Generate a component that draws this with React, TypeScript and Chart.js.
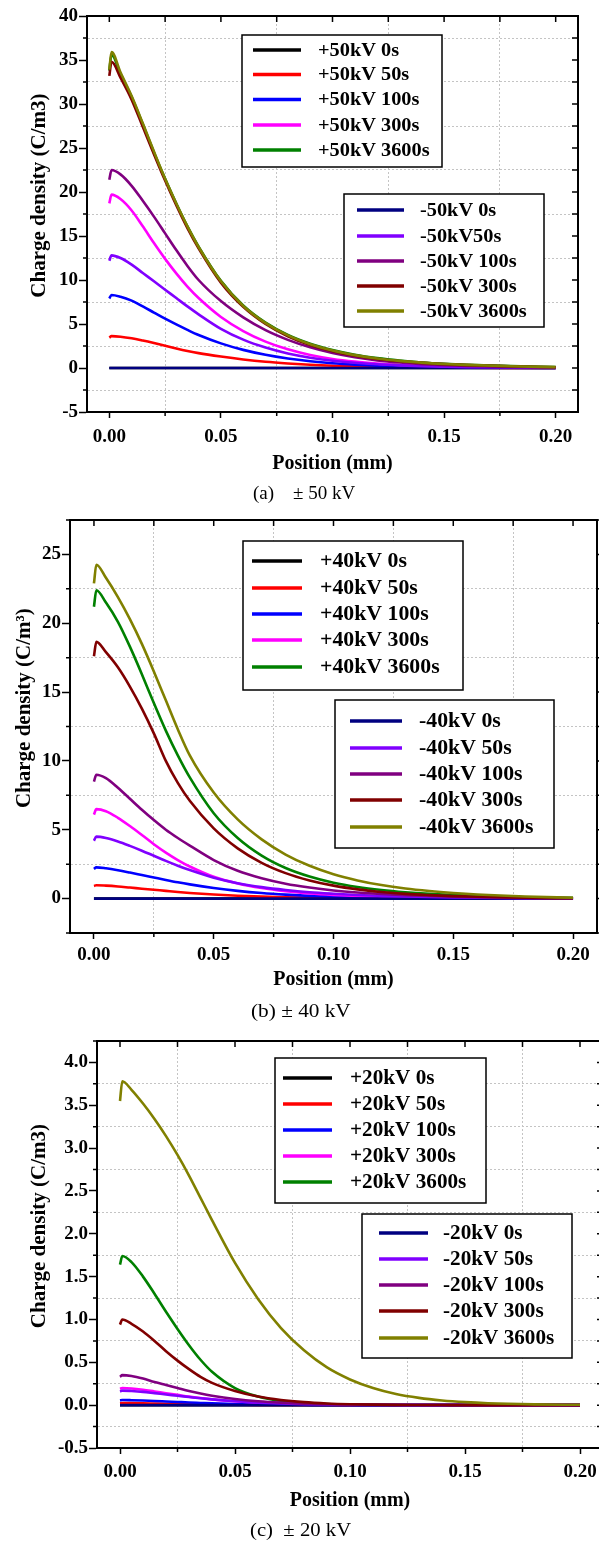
import React, { useEffect, useRef } from "react";
import { Chart, registerables } from "chart.js";

Chart.register(...registerables);

// ---------- data ----------
const POSITION_MM = [0, 0.001, 0.005, 0.01, 0.015, 0.02, 0.025, 0.03, 0.035, 0.04, 0.05, 0.06, 0.07, 0.08, 0.09, 0.1, 0.11, 0.12, 0.13, 0.14, 0.15, 0.16, 0.18, 0.2];

const SERIES_COLORS = ["#000000", "#ff0000", "#0000ff", "#ff00ff", "#008000", "#000080", "#8000ff", "#800080", "#800000", "#808000"];

const ZERO = [0, 0, 0, 0, 0, 0, 0, 0, 0, 0, 0, 0, 0, 0, 0, 0, 0, 0, 0, 0, 0, 0, 0, 0];

// Panel (a) +-50 kV
const A_LABELS = ["+50kV 0s", "+50kV 50s", "+50kV 100s", "+50kV 300s", "+50kV 3600s", "-50kV 0s", "-50kV50s", "-50kV 100s", "-50kV 300s", "-50kV 3600s"];
const A_P0 = ZERO;
const A_P50 = [3.45, 3.62, 3.56, 3.38, 3.12, 2.83, 2.52, 2.22, 1.94, 1.69, 1.3, 0.97, 0.71, 0.52, 0.37, 0.26, 0.18, 0.12, 0.08, 0.055, 0.035, 0.022, 0.01, 0.004];
const A_P100 = [7.9, 8.3, 8.1, 7.65, 7.0, 6.3, 5.6, 4.95, 4.33, 3.75, 2.8, 2.06, 1.5, 1.08, 0.77, 0.54, 0.38, 0.26, 0.18, 0.12, 0.08, 0.055, 0.025, 0.01];
const A_P300 = [18.7, 19.7, 19.2, 17.9, 16.1, 14.2, 12.4, 10.75, 9.25, 7.95, 5.8, 4.2, 3.0, 2.12, 1.48, 1.03, 0.72, 0.5, 0.34, 0.23, 0.16, 0.11, 0.05, 0.02];
const A_P3600 = [33.8, 35.6, 33.4, 30.8, 27.7, 24.5, 21.5, 18.7, 16.1, 13.8, 9.9, 7.1, 5.15, 3.75, 2.75, 2.03, 1.5, 1.12, 0.84, 0.63, 0.48, 0.37, 0.21, 0.11];
const A_N0 = ZERO;
const A_N50 = [12.2, 12.8, 12.5, 11.75, 10.8, 9.85, 8.9, 7.95, 7.0, 6.1, 4.45, 3.22, 2.32, 1.65, 1.17, 0.83, 0.59, 0.42, 0.3, 0.21, 0.15, 0.1, 0.05, 0.02];
const A_N100 = [21.4, 22.5, 22.0, 20.7, 19.0, 17.2, 15.3, 13.4, 11.6, 10.0, 7.6, 5.75, 4.3, 3.2, 2.35, 1.7, 1.22, 0.87, 0.62, 0.44, 0.31, 0.22, 0.11, 0.05];
const A_N300 = [33.2, 34.8, 33.0, 30.5, 27.4, 24.3, 21.3, 18.5, 15.9, 13.6, 9.7, 6.95, 5.0, 3.6, 2.6, 1.9, 1.4, 1.03, 0.77, 0.58, 0.44, 0.33, 0.18, 0.09];
const A_N3600 = [33.9, 35.9, 33.6, 30.9, 27.8, 24.6, 21.5, 18.7, 16.1, 13.75, 9.85, 7.05, 5.1, 3.7, 2.7, 1.98, 1.46, 1.08, 0.81, 0.61, 0.46, 0.35, 0.2, 0.1];

// Panel (b) +-40 kV
const B_LABELS = ["+40kV 0s", "+40kV 50s", "+40kV 100s", "+40kV 300s", "+40kV 3600s", "-40kV 0s", "-40kV 50s", "-40kV 100s", "-40kV 300s", "-40kV 3600s"];
const B_P0 = ZERO;
const B_P50 = [0.92, 0.97, 0.94, 0.88, 0.8, 0.72, 0.64, 0.56, 0.48, 0.41, 0.3, 0.21, 0.145, 0.1, 0.068, 0.046, 0.031, 0.021, 0.014, 0.01, 0.007, 0.005, 0.002, 0.001];
const B_P100 = [2.15, 2.27, 2.2, 2.06, 1.89, 1.71, 1.53, 1.35, 1.18, 1.03, 0.77, 0.56, 0.4, 0.285, 0.2, 0.14, 0.1, 0.07, 0.05, 0.035, 0.025, 0.017, 0.008, 0.004];
const B_P300 = [6.1, 6.5, 6.35, 5.87, 5.27, 4.62, 3.95, 3.34, 2.8, 2.33, 1.58, 1.1, 0.77, 0.54, 0.38, 0.27, 0.19, 0.135, 0.095, 0.068, 0.048, 0.034, 0.016, 0.008];
const B_P3600 = [21.2, 22.4, 21.5, 20.1, 18.3, 16.3, 14.2, 12.2, 10.4, 8.8, 6.2, 4.4, 3.12, 2.22, 1.6, 1.15, 0.84, 0.62, 0.46, 0.34, 0.25, 0.19, 0.1, 0.05];
const B_N0 = ZERO;
const B_N50 = [4.2, 4.5, 4.4, 4.15, 3.83, 3.48, 3.11, 2.74, 2.39, 2.07, 1.52, 1.12, 0.83, 0.62, 0.46, 0.35, 0.26, 0.2, 0.15, 0.11, 0.08, 0.06, 0.03, 0.015];
const B_N100 = [8.5, 9.0, 8.75, 8.05, 7.25, 6.45, 5.7, 5.0, 4.4, 3.85, 2.8, 2.02, 1.48, 1.08, 0.8, 0.59, 0.44, 0.33, 0.25, 0.19, 0.14, 0.1, 0.05, 0.025];
const B_N300 = [17.6, 18.65, 17.9, 16.8, 15.4, 13.8, 12.0, 10.0, 8.4, 7.1, 5.1, 3.65, 2.6, 1.85, 1.32, 0.94, 0.67, 0.48, 0.34, 0.25, 0.18, 0.13, 0.06, 0.025];
const B_N3600 = [22.9, 24.25, 23.3, 21.9, 20.3, 18.5, 16.5, 14.4, 12.3, 10.4, 7.7, 5.75, 4.3, 3.2, 2.38, 1.77, 1.32, 0.98, 0.73, 0.55, 0.41, 0.3, 0.15, 0.06];

// Panel (c) +-20 kV
const C_LABELS = ["+20kV 0s", "+20kV 50s", "+20kV 100s", "+20kV 300s", "+20kV 3600s", "-20kV 0s", "-20kV 50s", "-20kV 100s", "-20kV 300s", "-20kV 3600s"];
const C_P0 = ZERO;
const C_P50 = [0.022, 0.025, 0.024, 0.022, 0.019, 0.016, 0.014, 0.011, 0.009, 0.007, 0.005, 0.003, 0.002, 0.001, 0.001, 0.0005, 0, 0, 0, 0, 0, 0, 0, 0];
const C_P100 = [0.055, 0.06, 0.058, 0.054, 0.049, 0.043, 0.037, 0.031, 0.026, 0.021, 0.014, 0.009, 0.006, 0.004, 0.002, 0.001, 0, 0, 0, 0, 0, 0, 0, 0];
const C_P300 = [0.19, 0.2, 0.195, 0.18, 0.16, 0.14, 0.12, 0.1, 0.083, 0.068, 0.045, 0.028, 0.017, 0.01, 0.006, 0.003, 0.002, 0.001, 0, 0, 0, 0, 0, 0];
const C_P3600 = [1.64, 1.74, 1.67, 1.5, 1.3, 1.09, 0.89, 0.7, 0.53, 0.39, 0.2, 0.1, 0.048, 0.024, 0.012, 0.006, 0.003, 0.0015, 0, 0, 0, 0, 0, 0];
const C_N0 = ZERO;
const C_N50 = [0.16, 0.17, 0.165, 0.155, 0.14, 0.125, 0.11, 0.095, 0.08, 0.067, 0.046, 0.03, 0.019, 0.012, 0.007, 0.004, 0.002, 0.001, 0, 0, 0, 0, 0, 0];
const C_N100 = [0.33, 0.35, 0.34, 0.31, 0.27, 0.235, 0.2, 0.165, 0.135, 0.11, 0.072, 0.046, 0.029, 0.018, 0.011, 0.007, 0.004, 0.002, 0.001, 0, 0, 0, 0, 0];
const C_N300 = [0.94, 1.0, 0.95, 0.86, 0.75, 0.63, 0.52, 0.42, 0.33, 0.26, 0.165, 0.1, 0.06, 0.035, 0.02, 0.011, 0.006, 0.003, 0.002, 0.001, 0, 0, 0, 0];
const C_N3600 = [3.55, 3.78, 3.68, 3.52, 3.34, 3.14, 2.92, 2.68, 2.42, 2.16, 1.66, 1.24, 0.9, 0.64, 0.44, 0.3, 0.2, 0.13, 0.085, 0.055, 0.035, 0.022, 0.009, 0.004];

const X_MIN = -0.01;
const X_MAX = 0.21;
const X_STEP = 0.025;
const X_MAJOR = 0.05;

// ---------- helpers ----------
const SERIF = "'Liberation Serif', 'Times New Roman', serif";
const GRID = "#c4c4c4";
const NBSP = "\u00a0";
const isMajor = (v: number, m: number) => Math.abs(v / m - Math.round(v / m)) < 1e-6;

type LegendBox = { x: number; y: number; w: number; h: number; rows: number[]; lineX0: number; lineX1: number; textX: number; items: number[] };

type PanelSpec = {
  top: number;
  width: number;
  height: number;
  area: { left: number; top: number; right: number; bottom: number };
  yMin: number;
  yMax: number;
  yStep: number;
  yMajor: number;
  yDecimals: number;
  yTitle: string;
  yTitleCenterX: number;
  xTitleCenterY: number;
  xLabelCenterY: number;
  rightTickOut: boolean;
  labels: string[];
  series: number[][];
  boxes: LegendBox[];
  legendFont: number;
  legendStretch: number;
};

const decorPlugin = {
  id: "decor",
  afterDatasetsDraw(chart: any, _args: any, opts: any) {
    const { ctx, chartArea: ca } = chart;
    const xs = chart.scales.x;
    const ys = chart.scales.y;
    ctx.save();
    ctx.strokeStyle = "#000";
    ctx.lineWidth = 1.5;
    ctx.beginPath();
    xs.ticks.forEach((t: any) => {
      const px = xs.getPixelForValue(t.value);
      ctx.moveTo(px, ca.top);
      ctx.lineTo(px, ca.top + 6);
      if (!isMajor(t.value, X_MAJOR)) {
        ctx.moveTo(px, ca.bottom);
        ctx.lineTo(px, ca.bottom + 4);
      }
    });
    ys.ticks.forEach((t: any) => {
      const py = ys.getPixelForValue(t.value);
      ctx.moveTo(ca.right, py);
      ctx.lineTo(opts.rightTickOut ? ca.right + 6 : ca.right - 6, py);
      if (!isMajor(t.value, opts.yMajor)) {
        ctx.moveTo(ca.left, py);
        ctx.lineTo(ca.left - 4, py);
      }
    });
    ctx.stroke();
    ctx.lineWidth = 2;
    ctx.strokeRect(ca.left, ca.top, ca.right - ca.left, ca.bottom - ca.top);

    const dsets = chart.data.datasets;
    const off = opts.offsetY;
    opts.boxes.forEach((b: LegendBox) => {
      ctx.fillStyle = "#fff";
      ctx.fillRect(b.x, b.y - off, b.w, b.h);
      ctx.lineWidth = 1.5;
      ctx.strokeStyle = "#000";
      ctx.strokeRect(b.x, b.y - off, b.w, b.h);
      b.items.forEach((di, k) => {
        const ry = b.rows[k] - off;
        ctx.strokeStyle = dsets[di].borderColor;
        ctx.lineWidth = 3.5;
        ctx.beginPath();
        ctx.moveTo(b.lineX0, ry);
        ctx.lineTo(b.lineX1, ry);
        ctx.stroke();
        ctx.save();
        ctx.translate(b.textX, ry);
        ctx.scale(opts.stretch, 1);
        ctx.fillStyle = "#000";
        ctx.font = `bold ${opts.fontSize}px ${SERIF}`;
        ctx.textBaseline = "middle";
        ctx.textAlign = "left";
        ctx.fillText(dsets[di].label, 0, 1);
        ctx.restore();
      });
    });
    ctx.restore();
  },
};

function Panel({ spec }: { spec: PanelSpec }) {
  const ref = useRef<HTMLCanvasElement | null>(null);
  useEffect(() => {
    if (!ref.current) return;
    const s = spec;
    const tickFont = { family: SERIF, weight: "bold" as const, size: 19 };
    const chart = new Chart(ref.current, {
      type: "line",
      data: {
        datasets: s.series.map((vals, i) => ({
          label: s.labels[i],
          data: POSITION_MM.map((x, j) => ({ x, y: vals[j] })),
          borderColor: SERIES_COLORS[i],
          backgroundColor: SERIES_COLORS[i],
          borderWidth: 2.6,
          pointRadius: 0,
          cubicInterpolationMode: "monotone" as const,
          fill: false,
          order: s.series.length - i,
        })),
      },
      options: {
        animation: false,
        responsive: false,
        events: [],
        layout: { padding: { top: s.area.top - s.top, left: 0, right: s.width - s.area.right, bottom: 0 } },
        plugins: {
          legend: { display: false },
          tooltip: { enabled: false },
          decor: {
            offsetY: s.top,
            boxes: s.boxes,
            yMajor: s.yMajor,
            rightTickOut: s.rightTickOut,
            fontSize: s.legendFont,
            stretch: s.legendStretch,
          },
        } as any,
        scales: {
          x: {
            type: "linear",
            min: X_MIN,
            max: X_MAX,
            afterFit: (sc: any) => {
              sc.height = s.top + s.height - s.area.bottom;
            },
            ticks: {
              stepSize: X_STEP,
              includeBounds: false,
              autoSkip: false,
              maxRotation: 0,
              minRotation: 0,
              padding: s.xLabelCenterY - s.area.bottom - 6 - 11.4,
              color: "#000",
              font: tickFont,
              callback: (v: any) => (isMajor(Number(v), X_MAJOR) ? Number(v).toFixed(2) : ""),
            },
            grid: {
              color: (c: any) => (c.tick && isMajor(c.tick.value, X_MAJOR) ? "rgba(0,0,0,0)" : GRID),
              tickColor: (c: any) => (c.tick && isMajor(c.tick.value, X_MAJOR) ? "#000" : "rgba(0,0,0,0)"),
              tickLength: 6,
              tickWidth: 1.5,
              lineWidth: 1,
            },
            border: { display: true, color: "#000", width: 2, dash: [2, 2] },
            title: {
              display: true,
              text: "Position (mm)",
              color: "#000",
              font: { family: SERIF, weight: "bold", size: 20 },
              padding: { top: 0, bottom: s.top + s.height - s.xTitleCenterY - 12 },
            },
          },
          y: {
            type: "linear",
            min: s.yMin,
            max: s.yMax,
            afterFit: (sc: any) => {
              sc.width = s.area.left;
            },
            ticks: {
              stepSize: s.yStep,
              includeBounds: false,
              autoSkip: false,
              padding: 1,
              color: "#000",
              font: tickFont,
              callback: (v: any) => {
                const n = Number(v);
                if (!isMajor(n, s.yMajor)) return "";
                return (Math.abs(n) < 1e-9 ? 0 : n).toFixed(s.yDecimals);
              },
            },
            grid: {
              color: (c: any) => (c.tick && isMajor(c.tick.value, s.yMajor) ? "rgba(0,0,0,0)" : GRID),
              tickColor: (c: any) => (c.tick && isMajor(c.tick.value, s.yMajor) ? "#000" : "rgba(0,0,0,0)"),
              tickLength: 8,
              tickWidth: 1.5,
              lineWidth: 1,
            },
            border: { display: true, color: "#000", width: 2, dash: [2, 2] },
            title: {
              display: true,
              // leading no-break spaces shift the visible words upward, as in the reference
              text: NBSP.repeat(7) + s.yTitle,
              color: "#000",
              font: { family: SERIF, weight: "bold", size: 21 },
              padding: { top: s.yTitleCenterX - 12.6, bottom: 0 },
            },
          },
        },
      },
      plugins: [decorPlugin as any],
    });
    return () => chart.destroy();
  }, [spec]);
  return (
    <canvas
      ref={ref}
      width={spec.width}
      height={spec.height}
      style={{ position: "absolute", left: 0, top: spec.top, width: spec.width, height: spec.height }}
    />
  );
}

const PANELS: PanelSpec[] = [
  {
    top: 0,
    width: 599,
    height: 480,
    area: { left: 87, top: 16, right: 578, bottom: 412 },
    yMin: -5,
    yMax: 40,
    yStep: 2.5,
    yMajor: 5,
    yDecimals: 0,
    yTitle: "Charge density (C/m3)",
    yTitleCenterX: 40,
    xTitleCenterY: 464,
    xLabelCenterY: 437,
    rightTickOut: false,
    labels: A_LABELS,
    series: [A_P0, A_P50, A_P100, A_P300, A_P3600, A_N0, A_N50, A_N100, A_N300, A_N3600],
    boxes: [
      { x: 242, y: 35, w: 200, h: 132, rows: [50, 74.5, 99.5, 125, 150], lineX0: 253, lineX1: 301, textX: 318, items: [0, 1, 2, 3, 4] },
      { x: 344, y: 194, w: 200, h: 133, rows: [210, 236, 261, 286, 311], lineX0: 357, lineX1: 404, textX: 420, items: [5, 6, 7, 8, 9] },
    ],
    legendFont: 19,
    legendStretch: 1.07,
  },
  {
    top: 500,
    width: 599,
    height: 500,
    area: { left: 70, top: 520, right: 597, bottom: 933 },
    yMin: -2.5,
    yMax: 27.5,
    yStep: 2.5,
    yMajor: 5,
    yDecimals: 0,
    yTitle: "Charge density (C/m\u00b3)",
    yTitleCenterX: 25,
    xTitleCenterY: 980,
    xLabelCenterY: 955,
    rightTickOut: true,
    labels: B_LABELS,
    series: [B_P0, B_P50, B_P100, B_P300, B_P3600, B_N0, B_N50, B_N100, B_N300, B_N3600],
    boxes: [
      { x: 243, y: 541, w: 220, h: 149, rows: [561, 588, 614, 640, 667], lineX0: 252, lineX1: 302, textX: 320, items: [0, 1, 2, 3, 4] },
      { x: 335, y: 700, w: 219, h: 148, rows: [721, 748, 774, 800, 827], lineX0: 350, lineX1: 402, textX: 419, items: [5, 6, 7, 8, 9] },
    ],
    legendFont: 20,
    legendStretch: 1.09,
  },
  {
    top: 1020,
    width: 610,
    height: 500,
    area: { left: 97, top: 1041, right: 603, bottom: 1448 },
    yMin: -0.5,
    yMax: 4.25,
    yStep: 0.25,
    yMajor: 0.5,
    yDecimals: 1,
    yTitle: "Charge density (C/m3)",
    yTitleCenterX: 40,
    xTitleCenterY: 1501,
    xLabelCenterY: 1472,
    rightTickOut: false,
    labels: C_LABELS,
    series: [C_P0, C_P50, C_P100, C_P300, C_P3600, C_N0, C_N50, C_N100, C_N300, C_N3600],
    boxes: [
      { x: 275, y: 1058, w: 211, h: 145, rows: [1078, 1104, 1130, 1156, 1182], lineX0: 283, lineX1: 332, textX: 350, items: [0, 1, 2, 3, 4] },
      { x: 362, y: 1214, w: 210, h: 144, rows: [1233, 1259, 1285, 1311, 1338], lineX0: 379, lineX1: 428, textX: 443, items: [5, 6, 7, 8, 9] },
    ],
    legendFont: 20,
    legendStretch: 1.06,
  },
];

const CAPTIONS = [
  { text: "(a)    \u00b1 50 kV", left: 253, centerY: 493, stretch: 1.0 },
  { text: "(b) \u00b1 40 kV", left: 251, centerY: 1011, stretch: 1.12 },
  { text: "(c)  \u00b1 20 kV", left: 250, centerY: 1530, stretch: 1.09 },
];

export default function App() {
  return (
    <div style={{ position: "absolute", left: 0, top: 0, width: 599, height: 1545, overflow: "hidden", background: "#fff" }}>
      {PANELS.map((p, i) => (
        <Panel key={i} spec={p} />
      ))}
      {CAPTIONS.map((c, i) => (
        <div
          key={"cap" + i}
          style={{
            position: "absolute",
            left: c.left,
            top: c.centerY - 11,
            height: 22,
            lineHeight: "22px",
            fontFamily: SERIF,
            fontSize: 19,
            color: "#000",
            whiteSpace: "pre",
            transform: `scaleX(${c.stretch})`,
            transformOrigin: "left center",
          }}
        >
          {c.text}
        </div>
      ))}
    </div>
  );
}
